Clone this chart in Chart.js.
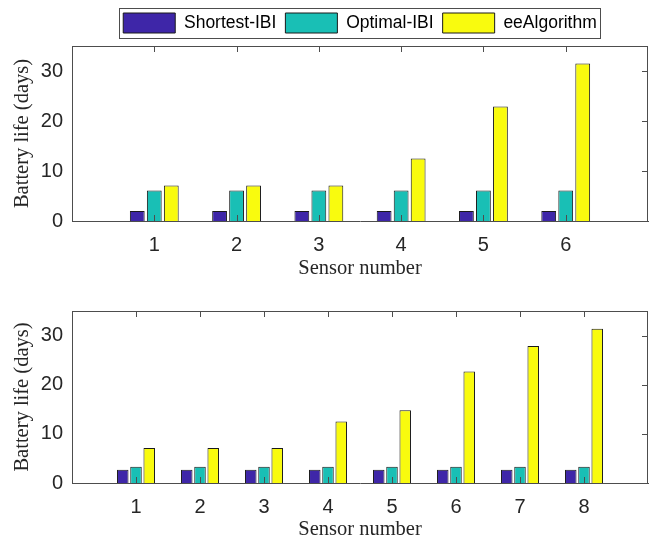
<!DOCTYPE html>
<html>
<head>
<meta charset="utf-8">
<script src="https://cdn.jsdelivr.net/npm/chart.js@4.4.1/dist/chart.umd.min.js"></script>
<style>
  body { margin: 0; background: #fff; }
  #topChart { position: absolute; left: 0; top: 0; }
  #bottomChart { position: absolute; left: 0; top: 290px; }
</style>
</head>
<body>
<canvas id="topChart" width="656" height="290"></canvas>
<canvas id="bottomChart" width="656" height="251"></canvas>
<script>
// series shared by both panels
const seriesNames = ['Shortest-IBI', 'Optimal-IBI', 'eeAlgorithm'];
const seriesColors = ['#3e26a8', '#19bfb5', '#f9fb0e'];
const yTicks = [0, 10, 20, 30];

// upper panel: 6 sensors
const sensorsTop = [1, 2, 3, 4, 5, 6];
const shortestTop = [2.0, 2.0, 2.0, 2.0, 2.0, 2.0];
const optimalTop = [6.1, 6.1, 6.1, 6.1, 6.1, 6.1];
const eeTop = [7.1, 7.1, 7.1, 12.5, 22.9, 31.5];

// lower panel: 8 sensors
const sensorsBottom = [1, 2, 3, 4, 5, 6, 7, 8];
const shortestBottom = [2.7, 2.7, 2.7, 2.7, 2.7, 2.7, 2.7, 2.7];
const optimalBottom = [3.3, 3.3, 3.3, 3.3, 3.3, 3.3, 3.3, 3.3];
const eeBottom = [7.1, 7.1, 7.1, 12.5, 14.8, 22.7, 27.9, 31.4];

const axisColor = '#4d4d4d';
const textColor = '#262626';
const sansFont = 'Liberation Sans, Arial, sans-serif';
const serifFont = 'Liberation Serif, Times New Roman, serif';

// matlab-like box with inward tick marks, drawn on top of the bars
const boxTicks = {
    id: 'boxTicks',
    afterDatasetsDraw(chart) {
        const ctx = chart.ctx;
        const a = chart.chartArea;
        const x = chart.scales.x;
        const y = chart.scales.y;
        ctx.save();
        ctx.strokeStyle = axisColor;
        ctx.lineWidth = 1;
        ctx.beginPath();
        ctx.moveTo(a.left, a.top + 0.5);
        ctx.lineTo(a.right, a.top + 0.5);
        ctx.moveTo(a.right - 0.5, a.top);
        ctx.lineTo(a.right - 0.5, a.bottom);
        x.ticks.forEach(t => {
            const px = Math.round(x.getPixelForValue(t.value)) + 0.5;
            ctx.moveTo(px, a.bottom);
            ctx.lineTo(px, a.bottom - 6);
            ctx.moveTo(px, a.top);
            ctx.lineTo(px, a.top + 6);
        });
        y.ticks.forEach(t => {
            const py = Math.round(y.getPixelForValue(t.value)) + 0.5;
            ctx.moveTo(a.right, py);
            ctx.lineTo(a.right - 6, py);
        });
        ctx.stroke();
        ctx.restore();
    }
};

// frame around the legend entries
const legendBox = {
    id: 'legendBox',
    afterDraw(chart) {
        const lg = chart.legend;
        if (!lg || !lg.options.display || !lg.legendHitBoxes.length) return;
        const hb = lg.legendHitBoxes;
        const first = hb[0];
        const last = hb[hb.length - 1];
        const ctx = chart.ctx;
        ctx.save();
        ctx.strokeStyle = axisColor;
        ctx.lineWidth = 1;
        const l = Math.round(first.left - 4.5) + 0.5;
        const r = Math.round(last.left + last.width + 3) + 0.5;
        const t = Math.round(first.top - 5.5) + 0.5;
        const b = Math.round(first.top + first.height + 5) + 0.5;
        ctx.strokeRect(l, t, r - l, b - t);
        ctx.restore();
    }
};

function makeDatasets(sensors, values) {
    return values.map((vals, i) => ({
        label: seriesNames[i],
        data: sensors.map((s, k) => ({ x: s, y: vals[k] })),
        backgroundColor: seriesColors[i],
        borderColor: '#1a1a1a',
        borderWidth: 1,
        categoryPercentage: 0.62,
        barPercentage: 0.87
    }));
}

function makeChart(id, sensors, values, opts) {
    const scales = {
        x: {
            type: 'linear',
            offset: false,
            min: 0,
            max: sensors.length + 1,
            grid: { display: false, drawTicks: false, offset: false },
            border: { display: true, color: axisColor, width: 1 },
            afterBuildTicks: s => { s.ticks = sensors.map(v => ({ value: v })); },
            afterFit: s => { s.height = opts.xHeight; },
            ticks: {
                padding: 12,
                color: textColor,
                font: { family: sansFont, size: 20 },
                callback: v => String(v)
            },
            title: {
                display: true,
                text: 'Sensor number',
                color: textColor,
                font: { family: serifFont, size: 20.5, lineHeight: 1 },
                padding: { top: 0, bottom: opts.titlePad }
            }
        },
        y: {
            type: 'linear',
            min: 0,
            max: 35,
            grid: { display: false, drawTicks: false },
            border: { display: true, color: axisColor, width: 1 },
            afterBuildTicks: s => { s.ticks = yTicks.map(v => ({ value: v })); },
            afterFit: s => { s.width = 72; },
            ticks: {
                padding: 9,
                color: textColor,
                font: { family: sansFont, size: 20 }
            },
            title: {
                display: true,
                text: 'Battery life (days)',
                color: textColor,
                font: { family: serifFont, size: 20.5, lineHeight: 1 },
                padding: { top: 12, bottom: 0 }
            }
        }
    };
    if (opts.legend) {
        // spacer between legend and plot box
        scales.xTop = {
            type: 'linear',
            position: 'top',
            display: true,
            offset: false,
            min: 0,
            max: sensors.length + 1,
            grid: { display: false, drawTicks: false },
            border: { display: false },
            ticks: { display: false },
            afterFit: s => { s.height = 3; }
        };
    }
    return new Chart(document.getElementById(id), {
        type: 'bar',
        data: { datasets: makeDatasets(sensors, values) },
        options: {
            responsive: false,
            animation: false,
            events: [],
            layout: { padding: { left: 0, right: 8, top: opts.padTop, bottom: 0 } },
            scales: scales,
            plugins: {
                tooltip: { enabled: false },
                legend: {
                    display: opts.legend,
                    position: 'top',
                    fullSize: false,
                    labels: {
                        boxWidth: 52,
                        boxHeight: 20,
                        padding: 9,
                        color: '#000',
                        font: { family: sansFont, size: 17.5 }
                    }
                }
            }
        },
        plugins: [boxTicks, legendBox]
    });
}

makeChart('topChart', sensorsTop, [shortestTop, optimalTop, eeTop],
    { legend: true, padTop: 4, xHeight: 69, titlePad: 11 });
makeChart('bottomChart', sensorsBottom, [shortestBottom, optimalBottom, eeBottom],
    { legend: false, padTop: 18, xHeight: 58, titlePad: 1 });
</script>
</body>
</html>
